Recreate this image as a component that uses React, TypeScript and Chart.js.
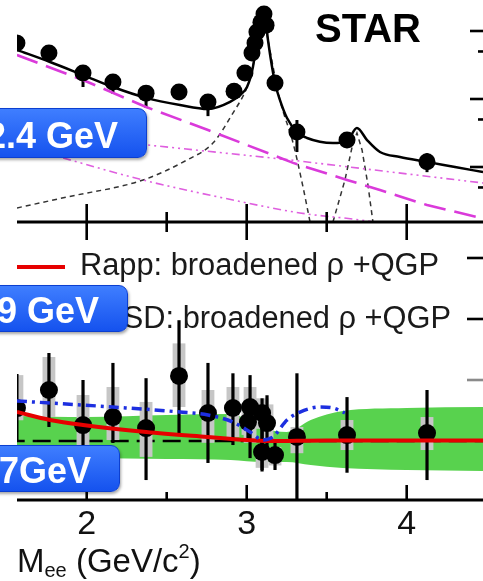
import React, { useEffect, useRef } from "react";
import { Chart, registerables } from "chart.js";

Chart.register(...registerables);

const FONT = '"Liberation Sans", Arial, Helvetica, sans-serif';

// ---------- axis ranges ----------
const X_MIN = 1.5644;
const X_MAX = 4.4769;
const TOP_Y_MIN = 1.553e-6;
const TOP_Y_MAX = 2.857e-3;
const BOT_Y_MIN = -0.967;
const BOT_Y_MAX = 3.59;

// ---------- ticks ----------
const xMajorTicks = [2, 3, 4];
const xTickLabels = ["2", "3", "4"];
const xMinorTicks = [2.5, 3.5];
const topRightMajor = [1e-3, 1e-4, 1e-5];
const topRightMinor = [5e-4, 5e-5, 5e-6];
const botRightTicks = [3, 2, 1];

// ---------- top panel: data points ----------
const topMass = [1.564, 1.764, 1.977, 2.164, 2.371, 2.577, 2.758, 2.921, 2.989, 3.033, 3.052, 3.064, 3.089, 3.108, 3.121, 3.177, 3.314, 3.627, 4.127];
const topYield = [6.67e-4, 4.74e-4, 2.41e-4, 1.78e-4, 1.22e-4, 1.27e-4, 9.04e-5, 1.3e-4, 2.41e-4, 4.74e-4, 6.67e-4, 9.7e-4, 1.35e-3, 1.78e-3, 1.22e-3, 1.72e-4, 3.27e-5, 2.49e-5, 1.19e-5];
const topErrLow = [6.0e-4, 4.3e-4, 1.5e-4, 1.19e-4, 7.4e-5, 1.05e-4, 5.6e-5, 1.15e-4, 2.2e-4, 4.4e-4, 6.2e-4, 9.1e-4, 1.27e-3, 1.68e-3, 1.15e-3, 1.5e-4, 1.66e-5, 1.9e-5, 8.4e-6];
const topErrHigh = [7.4e-4, 5.2e-4, 2.8e-4, 2.1e-4, 1.45e-4, 1.5e-4, 1.1e-4, 1.45e-4, 2.6e-4, 5.1e-4, 7.1e-4, 1.03e-3, 1.43e-3, 1.88e-3, 1.3e-3, 1.95e-4, 4.91e-5, 3.1e-5, 1.6e-5];

// ---------- top panel: curves ----------
const cocktailMass = [1.564, 1.771, 1.977, 2.164, 2.371, 2.583, 2.758, 2.896, 2.958, 3.002, 3.039, 3.071, 3.102, 3.114, 3.133, 3.177, 3.208, 3.252, 3.314, 3.377, 3.539, 3.627, 3.689, 3.752, 3.833, 3.958, 4.127, 4.302, 4.477];
const cocktailYield = [5.26e-4, 3.5e-4, 2.25e-4, 1.5e-4, 1.04e-4, 8.17e-5, 7.13e-5, 9.04e-5, 1.15e-4, 1.5e-4, 2.96e-4, 9.35e-4, 1.78e-3, 1.72e-3, 7.38e-4, 1.72e-4, 9.66e-5, 5.26e-5, 3.27e-5, 2.67e-5, 2.25e-5, 2.41e-5, 3.75e-5, 2.49e-5, 1.66e-5, 1.4e-5, 1.19e-5, 1.0e-5, 8.43e-6];

const charmMass = [1.564, 1.977, 2.371, 2.758, 3.29, 3.627, 3.833, 4.127, 4.439, 4.477];
const charmYield = [4.44e-4, 1.9e-4, 7.63e-5, 3.5e-5, 1.15e-5, 6.44e-6, 4.59e-6, 2.76e-6, 1.84e-6, 1.72e-6];

const dyUpperMass = [1.564, 2.378, 3.271, 4.477];
const dyUpperYield = [3.38e-5, 2.11e-5, 1.27e-5, 5.82e-6];

const dyLowerMass = [1.564, 1.833, 2.352, 2.914, 3.333, 3.752, 3.96];
const dyLowerYield = [2.11e-5, 1.4e-5, 6.44e-6, 3.27e-6, 2.11e-6, 1.61e-6, 1.3e-6];

const jpsiMass = [1.564, 1.877, 2.352, 2.627, 2.789, 2.914, 3.002, 3.039, 3.071, 3.102, 3.133, 3.208, 3.29, 3.352, 3.396];
const jpsiYield = [2.5e-6, 3.62e-6, 6.44e-6, 1.27e-5, 2.25e-5, 6.22e-5, 1.5e-4, 2.96e-4, 9.35e-4, 1.78e-3, 7.38e-4, 9.66e-5, 2.25e-5, 5.08e-6, 1.55e-6];

const psi2Mass = [3.539, 3.614, 3.664, 3.689, 3.721, 3.758, 3.789];
const psi2Yield = [1.55e-6, 6.44e-6, 2.25e-5, 3.16e-5, 1.78e-5, 5.43e-6, 1.55e-6];

// ---------- bottom panel: data points ----------
const botMass = [1.564, 1.764, 1.977, 2.164, 2.371, 2.577, 2.758, 2.914, 3.008, 3.021, 3.096, 3.127, 3.096, 3.177, 3.314, 3.627, 4.127];
const botExcess = [0.54, 0.836, 0.262, 0.393, 0.213, 1.066, 0.459, 0.541, 0.311, 0.557, 0.459, 0.295, -0.18, -0.23, 0.066, 0.098, 0.131];
const botErrLow = [0.0, 0.23, -0.6, -0.033, -0.64, 0.13, -0.36, -0.066, 0.0, -0.28, -0.475, -0.2, -0.5, -0.475, -0.967, -0.52, -0.64];
const botErrHigh = [1.1, 1.443, 1.0, 1.28, 1.03, 1.98, 1.28, 1.11, 0.6, 1.08, 0.7, 0.75, 0.2, -0.03, 1.11, 0.72, 0.836];
const botSysLow = [0.34, 0.393, -0.15, 0.016, -0.26, 0.557, -0.03, 0.066, 0.1, -0.03, 0.2, 0.0, -0.44, -0.4, -0.2, -0.148, -0.148];
const botSysHigh = [1.08, 1.377, 0.754, 0.885, 0.64, 1.6, 0.836, 0.885, 0.5, 0.885, 0.7, 0.6, -0.1, -0.1, 0.23, 0.344, 0.393];
const SYS_HALF_WIDTH = 0.04;

// ---------- bottom panel: model band / curves ----------
const bandMass = [1.564, 2.0, 2.5, 2.9, 3.1, 3.25, 3.4, 3.6, 4.0, 4.477];
const bandLow = [-0.262, -0.279, -0.295, -0.311, -0.344, -0.344, -0.393, -0.443, -0.475, -0.492];
const bandHigh = [0.41, 0.393, 0.426, 0.443, 0.213, 0.148, 0.344, 0.492, 0.541, 0.557];

const zeroMass = [1.5, 4.5];
const zeroExcess = [0, 0];

const rappMass = [1.564, 1.771, 1.977, 2.371, 2.752, 3.002, 3.127, 3.5, 4.477];
const rappExcess = [0.475, 0.344, 0.262, 0.148, 0.066, 0.016, 0.0, 0.01, 0.01];

const phsdMass = [1.564, 1.771, 2.164, 2.583, 2.758, 2.914, 3.021, 3.102, 3.164, 3.252, 3.333, 3.458, 3.539, 3.614];
const phsdExcess = [0.656, 0.623, 0.557, 0.475, 0.426, 0.311, 0.148, 0.016, 0.066, 0.344, 0.475, 0.557, 0.541, 0.459];

const pts = (xs: number[], ys: number[]) => xs.map((x, i) => ({ x, y: ys[i] }));

function line(ctx: CanvasRenderingContext2D, x1: number, y1: number, x2: number, y2: number) {
  ctx.beginPath();
  ctx.moveTo(x1, y1);
  ctx.lineTo(x2, y2);
  ctx.stroke();
}

function clipArea(chart: any) {
  const ca = chart.chartArea;
  const ctx = chart.ctx;
  ctx.beginPath();
  ctx.rect(ca.left, ca.top, ca.right - ca.left, ca.bottom - ca.top);
  ctx.clip();
}

const topPlugin = {
  id: "topAxes",
  beforeDatasetsDraw(chart: any) {
    const ctx = chart.ctx;
    const xs = chart.scales.x;
    const ys = chart.scales.y;
    ctx.save();
    clipArea(chart);
    ctx.strokeStyle = "#000";
    ctx.lineWidth = 3;
    topMass.forEach((m, i) => {
      const px = xs.getPixelForValue(m);
      line(ctx, px, ys.getPixelForValue(topErrLow[i]), px, ys.getPixelForValue(topErrHigh[i]));
    });
    ctx.restore();
  },
  afterDraw(chart: any) {
    const ctx = chart.ctx;
    const ca = chart.chartArea;
    const xs = chart.scales.x;
    const ys = chart.scales.y;
    ctx.save();
    ctx.strokeStyle = "#000";
    ctx.lineWidth = 3;
    line(ctx, ca.left, ca.bottom, ca.right, ca.bottom);
    ctx.lineWidth = 2.6;
    xMajorTicks.forEach((v) => {
      const px = xs.getPixelForValue(v);
      line(ctx, px, ca.bottom - 18, px, ca.bottom + 18);
    });
    xMinorTicks.forEach((v) => {
      const px = xs.getPixelForValue(v);
      line(ctx, px, ca.bottom - 10, px, ca.bottom + 10);
    });
    topRightMajor.forEach((v) => {
      const py = ys.getPixelForValue(v);
      line(ctx, ca.right - 13, py, ca.right, py);
    });
    topRightMinor.forEach((v) => {
      const py = ys.getPixelForValue(v);
      line(ctx, ca.right - 5, py, ca.right, py);
    });
    ctx.restore();
  },
};

const POINTS_INDEX = 3;

const botPlugin = {
  id: "botAxes",
  beforeDatasetDraw(chart: any, args: any) {
    if (args.index !== POINTS_INDEX) return;
    const ctx = chart.ctx;
    const xs = chart.scales.x;
    const ys = chart.scales.y;
    ctx.save();
    clipArea(chart);
    ctx.fillStyle = "#c6c6c6";
    botMass.forEach((m, i) => {
      const x1 = xs.getPixelForValue(m - SYS_HALF_WIDTH);
      const x2 = xs.getPixelForValue(m + SYS_HALF_WIDTH);
      const y1 = ys.getPixelForValue(botSysHigh[i]);
      const y2 = ys.getPixelForValue(botSysLow[i]);
      ctx.fillRect(x1, y1, x2 - x1, y2 - y1);
    });
    ctx.strokeStyle = "#000";
    ctx.lineWidth = 3.2;
    botMass.forEach((m, i) => {
      const px = xs.getPixelForValue(m);
      line(ctx, px, ys.getPixelForValue(botErrLow[i]), px, ys.getPixelForValue(botErrHigh[i]));
    });
    ctx.restore();
  },
  afterDraw(chart: any) {
    const ctx = chart.ctx;
    const ca = chart.chartArea;
    const xs = chart.scales.x;
    const ys = chart.scales.y;
    ctx.save();
    ctx.strokeStyle = "#000";
    ctx.lineWidth = 3;
    line(ctx, ca.left, ca.bottom, ca.right, ca.bottom);
    ctx.lineWidth = 2.6;
    xMajorTicks.forEach((v) => {
      const px = xs.getPixelForValue(v);
      line(ctx, px, ca.bottom, px, ca.bottom - 15);
    });
    xMinorTicks.forEach((v) => {
      const px = xs.getPixelForValue(v);
      line(ctx, px, ca.bottom, px, ca.bottom - 8);
    });
    botRightTicks.forEach((v) => {
      const py = ys.getPixelForValue(v);
      ctx.strokeStyle = v === 1 ? "#8a8a8a" : "#000";
      line(ctx, ca.right - 16, py, ca.right, py);
    });
    ctx.fillStyle = "#111";
    ctx.font = `34px ${FONT}`;
    ctx.textAlign = "center";
    ctx.textBaseline = "alphabetic";
    xMajorTicks.forEach((v, i) => {
      ctx.fillText(xTickLabels[i], xs.getPixelForValue(v), ca.bottom + 34);
    });
    ctx.restore();
  },
};

const lineDs = (data: any, extra: any) => ({
  data,
  pointRadius: 0,
  fill: false,
  clip: 0,
  ...extra,
});

export default function App() {
  const topRef = useRef<HTMLCanvasElement>(null);
  const botRef = useRef<HTMLCanvasElement>(null);

  useEffect(() => {
    const common = {
      responsive: false,
      animation: false as const,
      devicePixelRatio: 1,
      events: [] as any[],
      plugins: { legend: { display: false }, tooltip: { enabled: false }, title: { display: false } },
    };

    const top = new Chart(topRef.current!, {
      type: "line",
      data: {
        datasets: [
          { data: pts(topMass, topYield), showLine: false, pointRadius: 8.5, pointBackgroundColor: "#000", pointBorderColor: "#000", pointBorderWidth: 0, clip: 0, order: 1 } as any,
          lineDs(pts(cocktailMass, cocktailYield), { borderColor: "#000", borderWidth: 2.5, cubicInterpolationMode: "monotone", order: 2 }),
          lineDs(pts(charmMass, charmYield), { borderColor: "#da3ada", borderWidth: 2.6, borderDash: [22, 9], order: 3 }),
          lineDs(pts(dyUpperMass, dyUpperYield), { borderColor: "#df5fdf", borderWidth: 1.6, borderDash: [8, 4, 2, 4, 2, 4], order: 4 }),
          lineDs(pts(dyLowerMass, dyLowerYield), { borderColor: "#df5fdf", borderWidth: 1.6, borderDash: [8, 4, 2, 4, 2, 4], cubicInterpolationMode: "monotone", order: 4 }),
          lineDs(pts(jpsiMass, jpsiYield), { borderColor: "#333", borderWidth: 1.5, borderDash: [5, 4], cubicInterpolationMode: "monotone", order: 5 }),
          lineDs(pts(psi2Mass, psi2Yield), { borderColor: "#333", borderWidth: 1.5, borderDash: [5, 4], order: 5 }),
        ],
      },
      options: {
        ...common,
        layout: { autoPadding: false, padding: { left: 17, right: 0, top: 0, bottom: 23 } },
        scales: {
          x: { type: "linear", min: X_MIN, max: X_MAX, display: false },
          y: { type: "logarithmic", min: TOP_Y_MIN, max: TOP_Y_MAX, display: false },
        },
      } as any,
      plugins: [topPlugin],
    });

    const bot = new Chart(botRef.current!, {
      type: "line",
      data: {
        datasets: [
          lineDs(pts(bandMass, bandLow), { borderColor: "rgba(0,0,0,0)", borderWidth: 0, cubicInterpolationMode: "monotone", order: 11 }),
          lineDs(pts(bandMass, bandHigh), { borderColor: "rgba(0,0,0,0)", borderWidth: 0, backgroundColor: "#58d24e", fill: "-1", cubicInterpolationMode: "monotone", order: 10 }),
          lineDs(pts(zeroMass, zeroExcess), { borderColor: "#000", borderWidth: 2.5, borderDash: [18, 8], order: 9 }),
          { data: pts(botMass, botExcess), showLine: false, pointRadius: 9, pointBackgroundColor: "#000", pointBorderColor: "#000", pointBorderWidth: 0, clip: 0, order: 3 } as any,
          lineDs(pts(rappMass, rappExcess), { borderColor: "#e60000", borderWidth: 4, cubicInterpolationMode: "monotone", order: 2 }),
          lineDs(pts(phsdMass, phsdExcess), { borderColor: "#1d2fe0", borderWidth: 3.5, borderDash: [10, 5, 3, 5], cubicInterpolationMode: "monotone", order: 1 }),
        ],
      },
      options: {
        ...common,
        layout: { autoPadding: false, padding: { left: 17, right: 0, top: 22, bottom: 81 } },
        scales: {
          x: { type: "linear", min: X_MIN, max: X_MAX, display: false },
          y: { type: "linear", min: BOT_Y_MIN, max: BOT_Y_MAX, display: false },
        },
      } as any,
      plugins: [botPlugin],
    });

    return () => {
      top.destroy();
      bot.destroy();
    };
  }, []);

  const label = (text: string, top: number, height: number, right: number, padTop: number) => (
    <div
      style={{
        position: "absolute",
        left: -80,
        width: right + 80,
        top,
        height,
        boxSizing: "border-box",
        background: "linear-gradient(#3f7eff, #1552ee)",
        border: "1px solid #0c3fd0",
        borderRadius: 9,
        boxShadow: "1px 2px 3px rgba(0,0,0,0.35)",
        color: "#fff",
        font: `bold 36px ${FONT}`,
        lineHeight: "36px",
        display: "flex",
        alignItems: "center",
        justifyContent: "flex-end",
        paddingRight: 28,
        paddingTop: padTop,
        whiteSpace: "nowrap",
      }}
    >
      {text}
    </div>
  );

  return (
    <div
      style={{
        position: "fixed",
        left: 0,
        top: 0,
        width: 483,
        height: 581,
        overflow: "hidden",
        background: "#fff",
        fontFamily: FONT,
      }}
    >
      <canvas ref={topRef} width={483} height={245} style={{ position: "absolute", left: 0, top: 0, width: 483, height: 245 }} />
      <canvas ref={botRef} width={483} height={381} style={{ position: "absolute", left: 0, top: 200, width: 483, height: 381 }} />

      <div style={{ position: "absolute", left: 315, top: 8, font: `bold 40px ${FONT}`, lineHeight: "40px", color: "#000", whiteSpace: "nowrap" }}>STAR</div>

      <div style={{ position: "absolute", left: 17, top: 265, width: 48, height: 4, background: "#e60000" }} />
      <div style={{ position: "absolute", left: 80, top: 249, fontSize: 30.8, lineHeight: "31px", color: "#1a1a1a", whiteSpace: "nowrap" }}>Rapp: broadened ρ +QGP</div>
      <div style={{ position: "absolute", left: 80, top: 302, fontSize: 30.8, lineHeight: "31px", color: "#1a1a1a", whiteSpace: "nowrap" }}>PHSD: broadened ρ +QGP</div>

      <div style={{ position: "absolute", left: 17, top: 544, fontSize: 33, lineHeight: "33px", color: "#111", whiteSpace: "nowrap" }}>
        M<span style={{ fontSize: 20, verticalAlign: -5, lineHeight: 0 }}>ee</span> (GeV/c<span style={{ fontSize: 20, verticalAlign: 14, lineHeight: 0 }}>2</span>)
      </div>

      {label("62.4 GeV", 108, 50, 147, 5)}
      {label("39 GeV", 285, 47, 128, 4)}
      {label("27GeV", 445, 47, 120, 4)}
    </div>
  );
}
